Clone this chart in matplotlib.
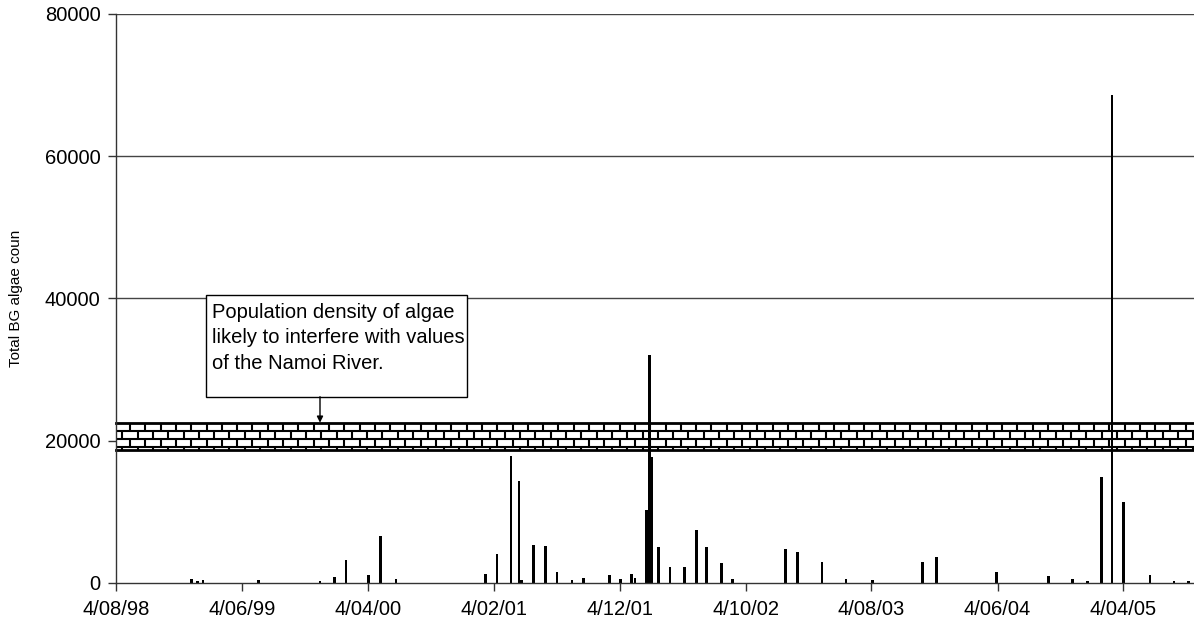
import numpy as np
import matplotlib
matplotlib.use("Agg")
import matplotlib.pyplot as plt
from matplotlib.patches import Rectangle
from matplotlib.collections import LineCollection

plt.rcParams['font.family'] = ['Liberation Sans', 'DejaVu Sans']

# ---------------- data ----------------
sample_dates = [
    "1999-02-02", "1999-02-17", "1999-03-02", "1999-07-14", "1999-12-10",
    "2000-01-14", "2000-02-11", "2000-04-05", "2000-05-04", "2000-06-11",
    "2001-01-13", "2001-02-10", "2001-03-16", "2001-04-04", "2001-04-11",
    "2001-05-09", "2001-06-07", "2001-07-05", "2001-08-10", "2001-09-07",
    "2001-11-09", "2001-12-05", "2002-01-02", "2002-01-10", "2002-02-06",
    "2002-02-13", "2002-02-19", "2002-03-07", "2002-04-04", "2002-05-10",
    "2002-06-07", "2002-07-02", "2002-08-06", "2002-09-03", "2003-01-08",
    "2003-02-06", "2003-04-07", "2003-06-04", "2003-08-06", "2003-12-05",
    "2004-01-08", "2004-06-02", "2004-10-06", "2004-12-03", "2005-01-07",
    "2005-02-10", "2005-03-08", "2005-04-05", "2005-06-08", "2005-08-05",
    "2005-09-08",
]
bg_counts = [
    600, 250, 420, 420, 250,
    800, 3300, 1100, 6650, 560,
    1270, 4100, 17900, 14400, 420,
    5350, 5150, 1500, 420, 750,
    1120, 560, 1300, 750, 10200,
    32100, 17700, 5000, 2250, 2250,
    7400, 5000, 2800, 560, 4850,
    4300, 2950, 560, 380, 2950,
    3700, 1500, 950, 560, 280,
    14950, 68650, 11450, 1080, 280,
    280,
]
tick_dates = ["1998-08-04", "1999-06-04", "2000-04-04", "2001-02-04", "2001-12-04",
              "2002-10-04", "2003-08-04", "2004-06-04", "2005-04-04"]
tick_labels = ["4/08/98", "4/06/99", "4/04/00", "4/02/01", "4/12/01",
               "4/10/02", "4/08/03", "4/06/04", "4/04/05"]
y_ticks = [0, 20000, 40000, 60000, 80000]
band_low, band_high = 18740, 22540
x_start, x_end = "1998-08-04", "2005-09-22"
note_text = "Population density of algae\nlikely to interfere with values\nof the Namoi River."
y_label = "Total BG algae coun"

# ---------------- figure ----------------
W, H = 1194, 627
fig = plt.figure(figsize=(W / 100, H / 100), dpi=100)
ax_l, ax_r, ax_t, ax_b = 116, 1194, 14, 583
ax = fig.add_axes([ax_l / W, 1 - ax_b / H, (ax_r - ax_l) / W, (ax_b - ax_t) / H])

dates = np.array(sample_dates, dtype="datetime64[D]")
ax.bar(dates, bg_counts, width=6.5, color="black", zorder=4, align="center")

ax.set_xlim(np.datetime64(x_start), np.datetime64(x_end))
ax.set_ylim(0, 80000)

# gridlines
for yv in y_ticks[1:]:
    ax.axhline(yv, color="#444444", lw=1.0, zorder=1)

# brick band
band = Rectangle((0, band_low), 1, band_high - band_low,
                 transform=ax.get_yaxis_transform(), facecolor="white",
                 edgecolor="none", zorder=2)
ax.add_patch(band)
row_h = 1125.0
brick_w = 15.3 / (ax_r - ax_l)
phase = (130 - ax_l) / (ax_r - ax_l)
segs = []
y = band_high
row = 0
while y > band_low + 1:
    y_next = max(y - row_h, band_low)
    if y_next > band_low:
        segs.append([(0, y_next), (1, y_next)])
    off = phase + (brick_w / 2 if row % 2 else 0)
    xx = off % brick_w
    while xx < 1:
        segs.append([(xx, y), (xx, y_next)])
        xx += brick_w
    y = y_next
    row += 1
lc = LineCollection(segs, colors="black", linewidths=1.5,
                    transform=ax.get_yaxis_transform(), zorder=3)
lc.set_clip_path(band)
ax.add_collection(lc)
for yb in (band_low, band_high):
    ax.plot([0, 1], [yb, yb], color="black", lw=2.0,
            transform=ax.get_yaxis_transform(), zorder=3, clip_on=False)

# axes styling
for s in ("top", "right"):
    ax.spines[s].set_visible(False)
for s in ("left", "bottom"):
    ax.spines[s].set_color("#333333")
    ax.spines[s].set_linewidth(1.0)
    ax.spines[s].set_zorder(5)

ax.set_yticks(y_ticks)
ax.set_yticklabels([str(v) for v in y_ticks])
ax.set_xticks(np.array(tick_dates, dtype="datetime64[D]"))
ax.set_xticklabels(tick_labels)
ax.tick_params(axis="both", direction="out", length=6, width=1, color="#333333",
               labelsize=14.5, labelcolor="black")
ax.tick_params(axis="y", pad=5)
ax.tick_params(axis="x", pad=6)

fig.text(16 / W, 1 - 298.5 / H, y_label, rotation=90, ha="center", va="center",
         fontsize=11)

# note box
def axf(px, py):
    return (px - ax_l) / (ax_r - ax_l), (ax_b - py) / (ax_b - ax_t)

bx0, by1 = axf(205.7, 295.3)
bx1, by0 = axf(467, 396.7)
ax.add_patch(Rectangle((bx0, by0), bx1 - bx0, by1 - by0, transform=ax.transAxes,
                       facecolor="white", edgecolor="black", lw=1.0, zorder=6))
tx, ty = axf(211.7, 302.5)
ax.text(tx, ty, note_text, transform=ax.transAxes, ha="left", va="top",
        fontsize=14.5, linespacing=1.45, zorder=7)
axx, _ = axf(320, 0)
ax.annotate("", xy=(axx, band_high), xycoords=("axes fraction", "data"),
            xytext=(axx, by0), textcoords="axes fraction",
            arrowprops=dict(arrowstyle="-|>", color="black", lw=1.0,
                            mutation_scale=9, shrinkA=0, shrinkB=0),
            zorder=7)

fig.savefig("out.png", dpi=100)
